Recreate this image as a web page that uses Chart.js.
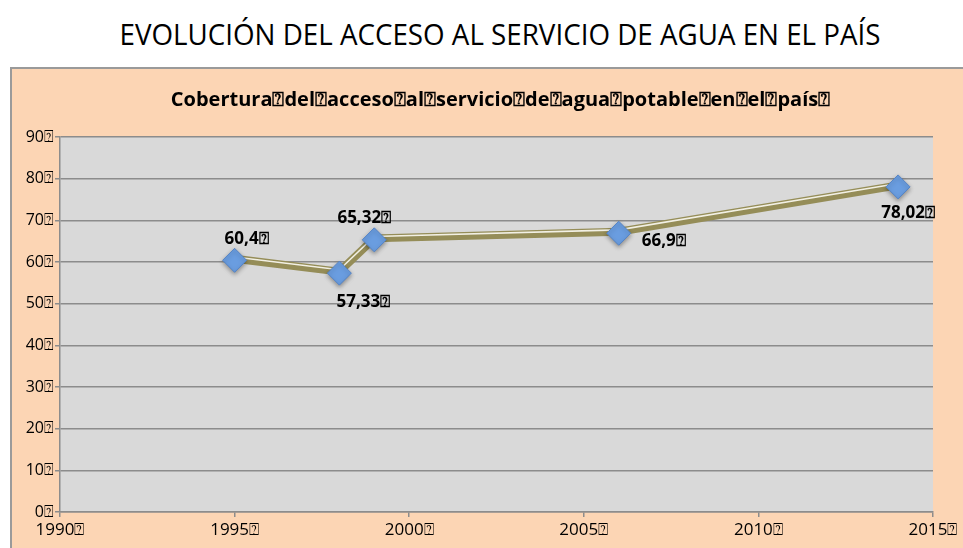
<!DOCTYPE html>
<html>
<head>
<meta charset="utf-8">
<script src="https://cdn.jsdelivr.net/npm/chart.js@4.4.0/dist/chart.umd.min.js"></script>
<style>
  body { margin: 0; background: #fff; width: 963px; height: 548px; overflow: hidden; position: relative; }
  h1 { position: absolute; left: 0; top: 13px; width: 1000px; margin: 0; text-align: center;
       font-family: "Open Sans", sans-serif; font-weight: 400; font-size: 30px; color: #000;
       transform: scaleX(0.925); transform-origin: 500px 0; white-space: nowrap; }
  #frame { position: absolute; left: 10px; top: 67px; width: 970px; height: 500px;
           background: #fcd5b4; border: 2px solid #9a9a9a; }
  #wrap { position: absolute; left: 0; top: 0; width: 960px; height: 480px; }
</style>
</head>
<body>
<h1>EVOLUCIÓN DEL ACCESO AL SERVICIO DE AGUA EN EL PAÍS</h1>
<div id="frame"><div id="wrap"><canvas id="aguaChart"></canvas></div></div>
<script>
document.addEventListener('DOMContentLoaded', function () {

    const BOX = '\u2370';
    const years = [1995, 1998, 1999, 2006, 2014];
    const coverage = [60.4, 57.33, 65.32, 66.9, 78.02];
    const coverageLabels = ['60,4', '57,33', '65,32', '66,9', '78,02'];
    const xTicks = [1990, 1995, 2000, 2005, 2010, 2015];
    const yTicks = [0, 10, 20, 30, 40, 50, 60, 70, 80, 90];

    const chartTitle = ['Cobertura', 'del', 'acceso', 'al', 'servicio', 'de', 'agua', 'potable', 'en', 'el', 'país'].join(BOX) + BOX;

    const points = years.map((y, i) => ({ x: y, y: coverage[i] }));

    // where each value label sits relative to its marker
    const labelOffset = [[12, -21], [24, 29], [-10, -22], [45, 8], [10, 26]];

    const plotBackground = {
        id: 'plotBackground',
        beforeDraw(chart) {
            const a = chart.chartArea;
            const ctx = chart.ctx;
            ctx.save();
            ctx.fillStyle = '#d9d9d9';
            ctx.fillRect(a.left, a.top, a.right - a.left, a.bottom - a.top);
            ctx.restore();
        }
    };

    const innerTitle = {
        id: 'innerTitle',
        afterDraw(chart) {
            const ctx = chart.ctx;
            const a = chart.chartArea;
            ctx.save();
            ctx.font = 'bold 20px "Open Sans", sans-serif';
            ctx.fillStyle = '#000';
            ctx.textAlign = 'center';
            ctx.textBaseline = 'middle';
            ctx.fillText(chartTitle, (a.left + a.right) / 2 + 4, a.top - 37);
            ctx.restore();
        }
    };

    // double line: wide olive band with a thin white stripe near its top
    const lineShift = [-1.5, -3.4, 0];
    const shiftLine = {
        id: 'shiftLine',
        beforeDatasetDraw(chart, args) {
            const ctx = chart.ctx;
            ctx.save();
            ctx.translate(0, lineShift[args.index]);
            if (args.index === 2) {
                ctx.shadowColor = 'rgba(0,0,0,0.35)';
                ctx.shadowBlur = 4;
                ctx.shadowOffsetY = 2;
            }
        },
        afterDatasetDraw(chart) {
            chart.ctx.restore();
        }
    };

    const valueLabels = {
        id: 'valueLabels',
        afterDatasetsDraw(chart) {
            const ctx = chart.ctx;
            const meta = chart.getDatasetMeta(2);
            ctx.save();
            ctx.font = 'bold 17px "Open Sans", sans-serif';
            ctx.fillStyle = '#000';
            ctx.textBaseline = 'middle';
            ctx.textAlign = 'center';
            meta.data.forEach((pt, i) => {
                ctx.fillText(coverageLabels[i] + BOX, pt.x + labelOffset[i][0], pt.y + labelOffset[i][1]);
            });
            ctx.restore();
        }
    };

    new Chart(document.getElementById('aguaChart'), {
        type: 'scatter',
        data: {
            datasets: [{
                data: points,
                showLine: true,
                borderColor: '#958d58',
                borderWidth: 8,
                pointRadius: 0,
                order: 3
            }, {
                data: points,
                showLine: true,
                borderColor: '#f2f0e4',
                borderWidth: 1.6,
                pointRadius: 0,
                order: 2
            }, {
                data: points,
                showLine: false,
                pointStyle: 'rectRot',
                pointRadius: 12,
                pointHoverRadius: 12,
                pointBackgroundColor: '#6a9de0',
                pointBorderColor: '#5584c6',
                pointBorderWidth: 1,
                order: 1
            }]
        },
        options: {
            responsive: true,
            maintainAspectRatio: false,
            animation: false,
            layout: { padding: { left: 0, right: 39, bottom: 0, top: 68 } },
            plugins: {
                legend: { display: false },
                tooltip: { enabled: false },
                title: { display: false }
            },
            scales: {
                x: {
                    type: 'linear',
                    min: 1990,
                    max: 2015,
                    afterBuildTicks(scale) { scale.ticks = xTicks.map(v => ({ value: v })); },
                    afterFit(scale) { scale.height = 37; },
                    ticks: {
                        color: '#000',
                        font: { family: '"Open Sans", sans-serif', size: 17 },
                        padding: 3,
                        maxRotation: 0,
                        callback: v => v + BOX
                    },
                    grid: { drawOnChartArea: false, drawTicks: true, tickLength: 5, color: '#8c8c8c', lineWidth: 1.5 },
                    border: { color: '#8c8c8c', width: 1.5 }
                },
                y: {
                    min: 0,
                    max: 90,
                    afterBuildTicks(scale) { scale.ticks = yTicks.map(v => ({ value: v })); },
                    afterFit(scale) { scale.width = 48; },
                    ticks: {
                        color: '#000',
                        font: { family: '"Open Sans", sans-serif', size: 16 },
                        padding: 1,
                        callback: v => v + BOX
                    },
                    grid: { color: '#8c8c8c', lineWidth: 1.5, tickLength: 5 },
                    border: { color: '#8c8c8c', width: 1.5 }
                }
            }
        },
        plugins: [plotBackground, shiftLine, valueLabels, innerTitle]
    });
});
</script>
</body>
</html>
